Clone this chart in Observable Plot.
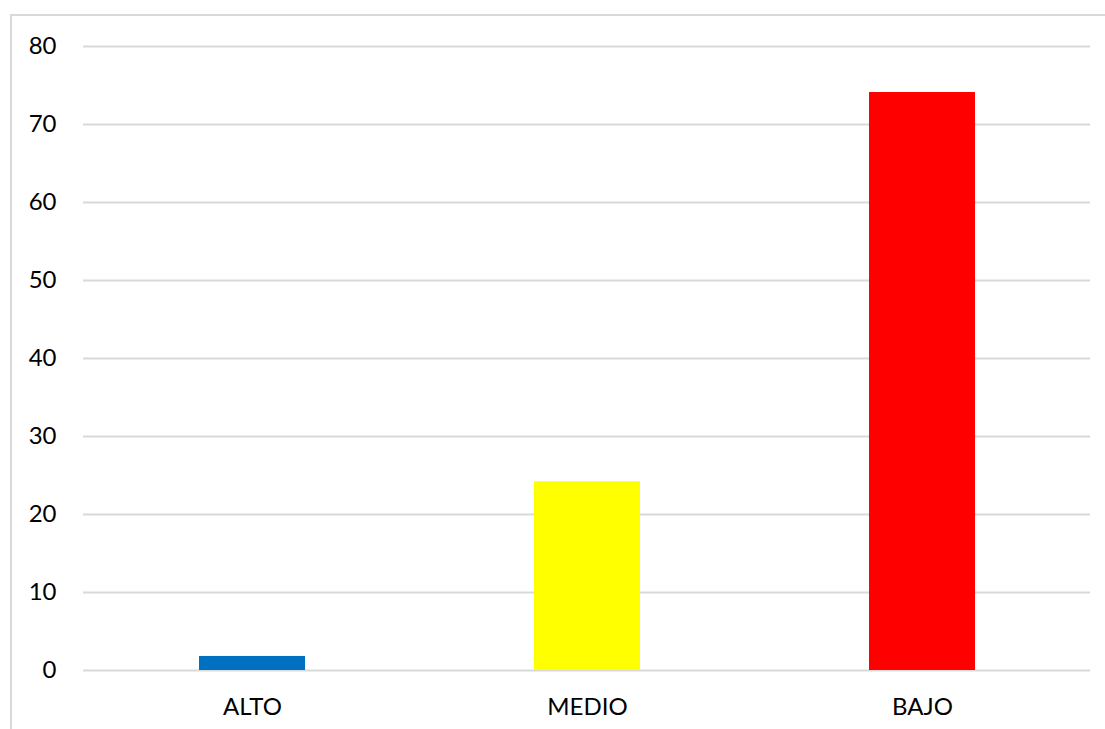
<!DOCTYPE html>
<html>
<head>
<meta charset="utf-8">
<script src="https://cdn.jsdelivr.net/npm/d3@7"></script>
<script src="https://cdn.jsdelivr.net/npm/@observablehq/plot@0.6"></script>
<style>
  html, body { margin: 0; padding: 0; background: #fff; overflow: hidden; }
  #wrap { position: relative; width: 1105px; height: 729px; }
  #border { position: absolute; left: 10px; top: 14px; width: 1200px; height: 800px;
            border: 2px solid #d9d9d9; box-sizing: border-box; pointer-events: none; }
  #chart { position: absolute; left: 0; top: 0; }
</style>
</head>
<body>
<div id="wrap">
  <div id="border"></div>
  <div id="chart"></div>
</div>
<script>
const categories = ["ALTO", "MEDIO", "BAJO"];
const values = [1.8, 24.2, 74.1];
const colors = ["#0070C0", "#FFFF00", "#FF0000"];
const yTicks = [0, 10, 20, 30, 40, 50, 60, 70, 80];

const data = categories.map((c, i) => ({category: c, value: values[i], color: colors[i]}));

const chart = Plot.plot({
  width: 1105,
  height: 729,
  marginLeft: 83,
  marginRight: 15,
  marginTop: 46,
  marginBottom: 59,
  style: {fontFamily: "Lato, 'Open Sans', sans-serif", fontSize: "24px", color: "#000", background: "transparent"},
  x: {domain: categories, paddingInner: 0.685, paddingOuter: 0.3425, label: null, tickSize: 0},
  y: {domain: [0, 80], ticks: yTicks, label: null, tickSize: 0},
  marks: [
    Plot.gridY(yTicks, {stroke: "#d9d9d9", strokeOpacity: 1, strokeWidth: 2}),
    Plot.barY(data, {x: "category", y: "value", fill: "color"}),
    Plot.axisY(yTicks, {tickSize: 0, tickPadding: 27, fontSize: 24, label: null}),
    Plot.axisX({tickSize: 0, tickPadding: 27, fontSize: 24, label: null})
  ]
});
document.getElementById("chart").appendChild(chart);
</script>
</body>
</html>
